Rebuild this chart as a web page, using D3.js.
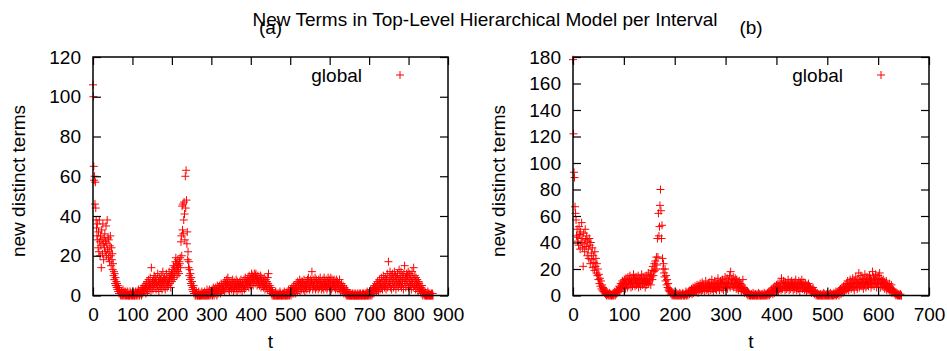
<!DOCTYPE html>
<html>
<head>
<meta charset="utf-8">
<script src="https://cdn.jsdelivr.net/npm/d3@7"></script>
<style>
  body { margin: 0; background: #fff; }
  text { font-family: "Liberation Sans", Arial, sans-serif; fill: #000; }
</style>
</head>
<body>
<div id="chart"></div>
<script>
// Chart data (one value per interval t = 0, 1, 2, ...)
//================================
var termsA = [
  106,100,65,58,60,46,57,44,38,34, 30,36,28,24,32,22,38,27,20,30,
  25,14,33,28,21,36,26,18,29,24, 31,22,27,35,20,26,38,23,29,19,
  28,22,17,25,30,20,15,24,18,21, 13,16,10,12,8,11,6,9,5,7,
  4,6,3,5,2,4,1,3,2,1, 0,1,2,0,1,0,3,1,0,2,
  1,0,0,2,1,0,1,0,2,0, 0,1,0,0,2,1,0,1,0,1,
  0,2,1,0,1,0,0,1,2,0, 1,0,2,1,0,3,1,2,0,1,
  2,1,3,0,2,4,1,3,2,5, 3,2,5,4,1,6,3,7,2,4,
  5,8,3,6,4,9,5,2,14,6, 4,7,3,8,5,10,6,4,9,7,
  3,6,8,5,11,4,7,2,9,6, 5,8,4,10,6,3,7,12,5,8,
  4,9,6,3,8,5,11,7,4,6, 9,5,7,12,8,6,10,4,9,11,
  7,13,10,8,15,11,9,14,12,17, 19,13,16,10,14,18,12,15,11,17,
  16,19,14,27,30,20,45,33,46,31, 38,47,41,28,60,44,63,48,26,32,
  18,22,14,17,10,13,8,11,6,9, 5,7,3,4,2,5,1,3,2,0,
  1,0,2,1,0,0,1,0,2,0, 0,1,0,0,1,0,2,0,1,0,
  1,0,0,2,0,1,0,1,0,3, 0,1,2,0,1,3,0,2,1,0,
  2,1,3,0,2,4,1,0,3,2, 1,4,2,3,0,5,2,1,4,3,
  2,5,3,1,4,6,2,5,3,4, 6,3,5,2,7,4,6,3,5,8,
  4,6,9,3,5,7,2,6,4,5, 7,3,6,4,8,5,2,6,7,4,
  3,6,5,8,4,2,7,5,3,6, 5,4,7,3,6,8,4,5,2,6,
  7,4,5,8,3,6,9,5,4,7, 6,8,5,9,7,4,10,6,8,5,
  9,7,11,6,8,10,5,9,7,11, 8,6,10,11,7,9,5,8,10,6,
  7,9,5,8,6,10,4,7,9,5, 6,8,4,7,9,5,3,6,8,4,
  5,7,3,9,6,11,4,2,5,3, 2,4,1,3,0,2,1,0,1,0,
  0,1,0,2,0,0,1,0,0,1, 0,0,1,0,2,0,1,0,0,0,
  1,0,0,1,0,2,0,1,0,0, 0,1,2,0,1,0,3,1,0,2,
  1,3,0,2,4,1,3,2,5,1, 3,2,5,4,1,6,3,5,2,7,
  4,6,3,5,8,2,6,4,7,3, 5,7,4,6,3,8,5,2,6,4,
  7,5,3,6,8,4,9,5,7,3, 6,4,8,5,7,12,6,3,8,5,
  4,7,5,9,3,6,8,4,7,5, 6,3,8,5,4,7,9,5,6,3,
  7,5,4,8,6,3,9,5,7,4, 6,8,5,3,7,4,9,6,5,8,
  4,7,6,9,5,3,8,6,4,7, 5,8,4,6,7,3,5,8,4,6,
  7,3,5,6,4,8,3,5,2,4, 6,3,4,2,5,3,1,4,2,3,
  1,2,0,3,1,0,2,0,1,0, 0,1,0,0,1,0,0,0,1,0,
  0,0,1,0,0,0,1,0,0,0, 0,1,0,0,0,1,0,0,1,0,
  0,0,0,1,0,0,1,0,0,0, 1,0,0,1,0,2,0,1,0,1,
  0,2,1,0,3,1,2,0,3,1, 2,4,1,3,5,2,4,3,6,2,
  4,7,3,5,2,6,8,4,3,6, 5,9,4,7,3,6,10,5,8,4,
  6,9,5,3,8,6,11,4,7,17, 5,9,6,12,4,8,10,3,7,11,
  6,9,4,8,12,5,7,10,3,6, 9,5,11,7,4,8,13,6,10,5,
  8,12,4,7,10,6,9,3,11,7, 15,6,9,4,8,11,5,10,7,12,
  4,9,6,11,8,5,10,3,7,12, 6,9,4,14,8,5,10,7,3,9,
  6,4,8,5,2,7,4,6,3,5, 2,4,1,3,5,2,0,3,1,2,
  0,1,2,0,1,0,0,1,0,2, 0,1,0,0,1,0,0,0,1,0,
  0,1,0
];

var termsB = [
  178,122,93,89,67,62,57,45,50,41, 44,38,52,46,35,48,40,55,43,36,
  22,47,39,33,50,42,37,45,30,41, 35,28,43,38,24,40,32,27,36,21,
  30,25,19,33,22,28,17,24,15,20, 12,16,9,13,7,11,5,8,4,6,
  3,5,2,4,1,3,0,2,1,0, 1,0,2,0,1,0,0,1,0,2,
  0,1,3,0,2,1,4,2,3,5, 4,7,3,6,9,5,8,11,6,10,
  7,12,9,5,13,8,11,6,14,10, 8,12,15,9,6,11,13,7,10,16,
  9,13,7,11,14,8,12,10,15,6, 11,9,13,7,12,16,10,8,14,11,
  9,13,6,11,15,8,12,10,17,9, 13,11,16,8,14,19,12,22,15,18,
  24,19,26,20,29,23,43,29,62,45, 52,68,80,64,43,53,28,20,24,17,
  14,20,11,15,8,12,6,9,4,5, 3,4,2,1,3,0,1,2,0,1,
  0,1,0,2,0,1,0,0,1,0, 2,0,1,0,0,1,2,0,1,0,
  0,1,3,0,2,1,0,3,2,1, 4,2,3,5,1,4,6,2,5,3,
  7,4,6,3,8,5,2,7,4,6, 9,5,3,7,10,4,6,8,5,3,
  7,11,6,4,8,5,9,3,7,10, 6,4,8,12,5,7,3,9,6,11,
  5,8,4,10,7,13,6,9,4,8, 11,6,9,5,12,7,4,10,8,14,
  6,10,7,13,5,9,11,8,15,6, 18,9,12,7,10,14,6,11,8,13,
  9,5,12,7,10,4,8,11,6,9, 7,3,8,5,12,4,6,2,5,3,
  4,2,1,3,0,2,1,0,1,0, 0,1,0,0,2,0,1,0,0,1,
  0,0,1,0,0,2,0,1,0,0, 1,0,0,1,0,0,2,0,1,0,
  0,1,2,0,1,3,0,2,1,4, 2,5,3,1,6,4,2,7,5,3,
  8,4,6,9,3,7,5,10,6,4, 13,7,5,9,11,6,8,4,10,7,
  5,9,6,12,8,4,7,10,5,8, 11,6,9,4,7,10,5,8,12,6,
  4,9,7,5,11,8,3,10,6,9, 12,5,8,6,10,4,7,9,5,3,
  8,6,4,9,5,7,3,6,4,2, 5,3,6,2,4,1,3,2,0,1,
  2,0,1,0,1,0,0,1,0,0, 1,0,0,2,0,1,0,0,1,0,
  0,1,0,0,1,0,2,0,1,0, 0,1,0,2,1,0,1,3,0,2,
  1,3,2,0,4,2,5,1,3,6, 4,2,7,5,3,8,6,4,9,5,
  11,7,4,9,6,12,8,5,10,7, 13,6,9,4,11,8,14,7,10,5,
  12,9,17,6,11,8,15,10,7,13, 9,5,12,8,16,10,6,11,14,8,
  12,7,10,15,9,13,6,11,8,18, 10,14,7,12,9,16,11,6,13,9,
  15,8,12,17,10,6,13,9,11,7, 12,8,10,5,9,7,11,4,8,6,
  7,5,9,3,6,4,8,2,5,3, 4,2,3,1,2,0,1,2,0,1,
  0,1,0,0,1,0,0
];

var xTicksA = [0, 100, 200, 300, 400, 500, 600, 700, 800, 900];
var yTicksA = [0, 20, 40, 60, 80, 100, 120];
var xTicksB = [0, 100, 200, 300, 400, 500, 600, 700];
var yTicksB = [0, 20, 40, 60, 80, 100, 120, 140, 160, 180];

var chartTitle = "New Terms in Top-Level Hierarchical Model per Interval";
var seriesName = "global";

// Set up our chart area
//================================
var svgWidth = 947;
var svgHeight = 351;
var plotTop = 57;
var plotBottom = 295.5;
var tickLen = 8;

var svg = d3.select("#chart")
  .append("svg")
  .attr("width", svgWidth)
  .attr("height", svgHeight);

svg.append("text")
  .attr("x", 485)
  .attr("y", 26)
  .attr("text-anchor", "middle")
  .style("font-size", "19px")
  .text(chartTitle);

// a "+" marker like gnuplot's point type 1
function plus(g, x, y) {
  g.append("path")
    .attr("d", `M${x - 4},${y}H${x + 4}M${x},${y - 4}V${y + 4}`)
    .attr("stroke", "#ff0000")
    .attr("stroke-width", 1)
    .attr("fill", "none");
}

function drawPanel(left, right, terms, xTicks, yTicks, label) {
  var x = d3.scaleLinear()
    .domain([xTicks[0], xTicks[xTicks.length - 1]])
    .range([left, right]);
  var y = d3.scaleLinear()
    .domain([yTicks[0], yTicks[yTicks.length - 1]])
    .range([plotBottom, plotTop]);

  var g = svg.append("g");

  // points
  var pts = g.append("g");
  terms.forEach(function(v, t) {
    plus(pts, x(t), y(v));
  });

  // axes, ticks pointing inward, mirrored on top and right
  var bottom = g.append("g")
    .attr("transform", `translate(0, ${plotBottom})`)
    .call(d3.axisBottom(x).tickValues(xTicks).tickSize(-tickLen).tickPadding(12));
  var leftAx = g.append("g")
    .attr("transform", `translate(${left}, 0)`)
    .call(d3.axisLeft(y).tickValues(yTicks).tickSize(-tickLen).tickPadding(12));
  g.append("g")
    .attr("transform", `translate(0, ${plotTop})`)
    .call(d3.axisTop(x).tickValues(xTicks).tickSize(-tickLen).tickFormat(""));
  g.append("g")
    .attr("transform", `translate(${right}, 0)`)
    .call(d3.axisRight(y).tickValues(yTicks).tickSize(-tickLen).tickFormat(""));

  g.selectAll(".domain").remove();
  g.selectAll(".tick line").attr("stroke", "#000").attr("stroke-width", 1.2);
  g.selectAll(".tick text")
    .style("font-size", "19px")
    .style("font-family", "'Liberation Sans', Arial, sans-serif")
    .attr("fill", "#000");

  g.append("rect")
    .attr("x", left)
    .attr("y", plotTop)
    .attr("width", right - left)
    .attr("height", plotBottom - plotTop)
    .attr("fill", "none")
    .attr("stroke", "#000")
    .attr("stroke-width", 1.5);

  // axis labels
  var mid = (left + right) / 2;
  g.append("text")
    .attr("x", mid)
    .attr("y", 34)
    .attr("text-anchor", "middle")
    .style("font-size", "19px")
    .text(label);

  g.append("text")
    .attr("x", mid)
    .attr("y", 348)
    .attr("text-anchor", "middle")
    .style("font-size", "19px")
    .text("t");

  g.append("text")
    .attr("transform", `translate(${left - 68}, 181) rotate(-90)`)
    .attr("text-anchor", "middle")
    .style("font-size", "19px")
    .text("new distinct terms");

  // legend
  g.append("text")
    .attr("x", right - 86)
    .attr("y", 82)
    .attr("text-anchor", "end")
    .style("font-size", "19px")
    .text(seriesName);
  plus(g, right - 48, 75);
}

drawPanel(93, 448, termsA, xTicksA, yTicksA, "(a)");
drawPanel(573, 929, termsB, xTicksB, yTicksB, "(b)");
</script>
</body>
</html>
